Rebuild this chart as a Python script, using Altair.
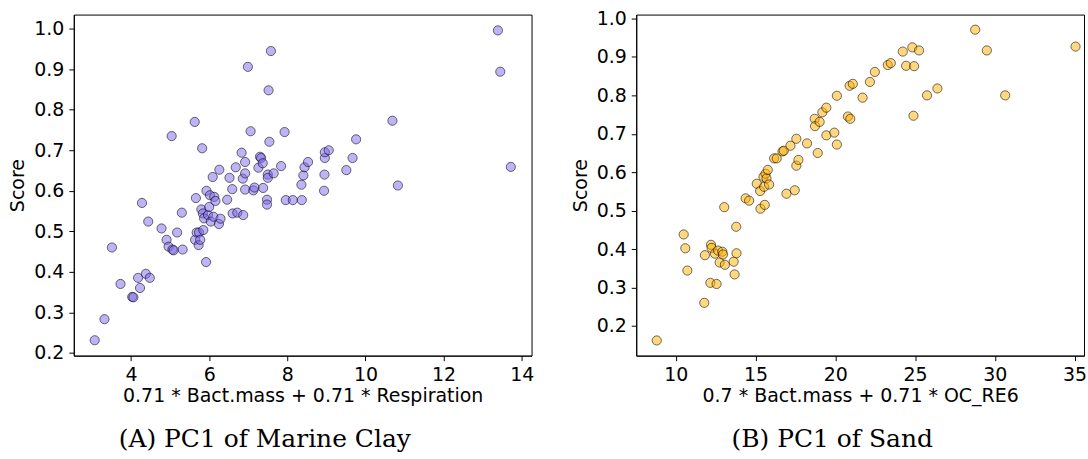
import altair as alt
import pandas as pd

# ---- Panel A: Marine Clay ----
clay_x = [3.07, 3.32, 3.51, 3.73, 4.03, 4.06, 4.18, 4.23, 4.28, 4.38, 4.48, 4.44, 4.78, 4.91,
          4.96, 5.04, 5.06, 5.09, 5.18, 5.30, 5.32, 5.63, 5.66, 5.64, 5.68, 5.73, 5.74, 5.77,
          5.80, 5.82, 5.84, 5.85, 5.87, 5.92, 5.93, 5.97, 6.00, 6.02, 6.04, 6.09, 6.11, 6.13,
          6.16, 6.25, 6.26, 6.29, 6.46, 6.52, 6.59, 6.60, 6.68, 6.72, 6.83, 6.86, 6.87, 6.92,
          6.92, 6.92, 6.99, 7.06, 7.13, 7.16, 7.26, 7.30, 7.33, 7.37, 7.38, 7.50, 7.50, 7.48,
          7.48, 7.52, 7.54, 7.58, 7.65, 7.84, 7.93, 7.96, 8.14, 8.37, 8.36, 8.41, 8.44, 8.53,
          8.94, 8.95, 8.96, 8.96, 9.06, 9.51, 9.67, 9.76, 10.69, 10.83, 13.39, 13.45, 13.72]
clay_y = [0.231, 0.283, 0.460, 0.370, 0.338, 0.337, 0.385, 0.360, 0.570, 0.395, 0.385, 0.524,
          0.507, 0.479, 0.462, 0.735, 0.455, 0.453, 0.497, 0.546, 0.455, 0.770, 0.582, 0.479,
          0.497, 0.466, 0.497, 0.479, 0.554, 0.705, 0.544, 0.503, 0.532, 0.424, 0.600, 0.540,
          0.560, 0.589, 0.524, 0.634, 0.536, 0.585, 0.575, 0.518, 0.652, 0.531, 0.578, 0.632,
          0.604, 0.544, 0.658, 0.546, 0.694, 0.630, 0.540, 0.671, 0.643, 0.603, 0.906, 0.747,
          0.601, 0.608, 0.657, 0.684, 0.681, 0.668, 0.607, 0.640, 0.632, 0.578, 0.566, 0.848,
          0.721, 0.945, 0.643, 0.661, 0.745, 0.577, 0.577, 0.577, 0.615, 0.638, 0.658, 0.671,
          0.600, 0.640, 0.681, 0.695, 0.700, 0.651, 0.681, 0.727, 0.773, 0.613, 0.996, 0.894,
          0.659]

# ---- Panel B: Sand ----
sand_x = [8.81, 10.50, 10.60, 10.73, 11.79, 11.83, 12.17, 12.21, 12.25, 12.46, 12.56, 12.65,
          12.75, 12.92, 12.96, 13.04, 13.08, 13.63, 13.69, 13.79, 13.81, 14.38, 14.60, 15.08,
          15.29, 15.31, 15.50, 15.54, 15.58, 15.63, 15.69, 15.77, 15.85, 16.17, 16.33, 16.69,
          16.77, 16.94, 17.19, 17.46, 17.56, 17.56, 17.69, 18.23, 18.71, 18.73, 18.90, 19.02,
          19.19, 19.44, 19.44, 19.94, 20.10, 20.10, 20.79, 20.94, 20.90, 21.10, 21.71, 22.17,
          22.48, 23.29, 23.48, 24.23, 24.44, 24.83, 24.94, 24.90, 25.25, 25.75, 26.40, 28.77,
          29.50, 30.65, 35.06]
sand_y = [0.162, 0.438, 0.402, 0.344, 0.260, 0.384, 0.312, 0.411, 0.403, 0.388, 0.309, 0.396,
          0.365, 0.393, 0.386, 0.509, 0.359, 0.367, 0.334, 0.458, 0.389, 0.532, 0.526, 0.570,
          0.551, 0.505, 0.588, 0.562, 0.515, 0.596, 0.584, 0.606, 0.568, 0.636, 0.636, 0.654,
          0.656, 0.544, 0.669, 0.553, 0.687, 0.617, 0.632, 0.675, 0.739, 0.720, 0.650, 0.731,
          0.756, 0.768, 0.696, 0.703, 0.672, 0.799, 0.745, 0.739, 0.825, 0.830, 0.794, 0.835,
          0.861, 0.879, 0.884, 0.914, 0.877, 0.925, 0.876, 0.747, 0.917, 0.800, 0.818, 0.971,
          0.917, 0.800, 0.927]

score_ticks = [0.2, 0.3, 0.4, 0.5, 0.6, 0.7, 0.8, 0.9, 1.0]
clay_xticks = [4, 6, 8, 10, 12, 14]
sand_xticks = [10, 15, 20, 25, 30, 35]


def panel(xs, ys, fill, xdom, ydom, xticks, xtitle, caption, w, h, cap_dx):
    df = pd.DataFrame({"x": xs, "y": ys})
    return alt.Chart(df).mark_point(
        shape="circle", filled=True, size=85, fill=fill, fillOpacity=0.5,
        stroke="black", strokeOpacity=0.55, strokeWidth=1
    ).encode(
        x=alt.X("x:Q", scale=alt.Scale(domain=xdom, nice=False, zero=False),
                axis=alt.Axis(values=xticks, format="d", title=xtitle, titlePadding=2)),
        y=alt.Y("y:Q", scale=alt.Scale(domain=ydom, nice=False, zero=False),
                axis=alt.Axis(values=score_ticks, format=".1f", title="Score", titlePadding=6)),
    ).properties(
        width=w, height=h,
        title=alt.TitleParams(caption, orient="bottom", anchor="middle",
                              font="DejaVu Serif", fontSize=25, fontWeight="normal",
                              color="black", offset=22, dx=cap_dx),
    )


left = panel(clay_x, clay_y, "#7B68EE", [2.535, 14.25], [0.193, 1.035], clay_xticks,
             "0.71 * Bact.mass + 0.71 * Respiration", "(A) PC1 of Marine Clay", 459, 342, -38)
right = panel(sand_x, sand_y, "#FFB000", [7.525, 35.59], [0.1225, 1.0103], sand_xticks,
              "0.7 * Bact.mass + 0.71 * OC_RE6", "(B) PC1 of Sand", 449, 342, -28)

chart = alt.hconcat(left, right, spacing=105, bounds="flush").properties(
    padding={"left": 8, "top": 8, "right": 0, "bottom": 0}
).configure_view(
    stroke="black", strokeWidth=1
).configure_axis(
    grid=False, domainColor="black", tickColor="black", labelColor="black",
    titleColor="black", labelFont="DejaVu Sans", titleFont="DejaVu Sans",
    labelFontSize=19, titleFontSize=19, titleFontWeight="normal",
    tickSize=5, labelPadding=5
)

chart.save("out.html", embed_options={"renderer": "svg", "actions": False})
